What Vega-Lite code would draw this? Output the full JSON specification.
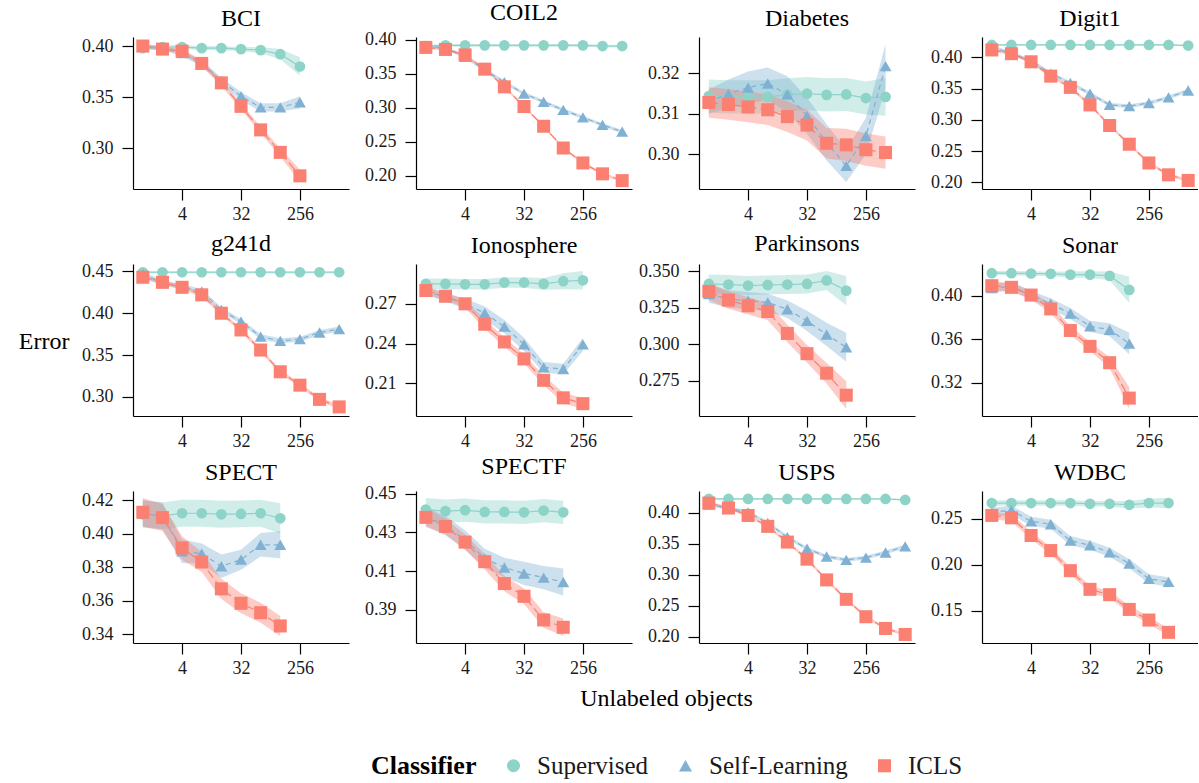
{
"$schema": "https://vega.github.io/schema/vega-lite/v6.json",
"padding": {"left": 18, "top": 0, "right": 0, "bottom": 0},
"title": {"text": "Error", "orient": "left", "angle": 0, "fontSize": 24, "offset": 12, "align": "left", "dy": -60},
"data": {"values": [
{"d":"BCI","c":"Supervised","x":1,"m":0.398,"lo":0.396,"hi":0.400},
{"d":"BCI","c":"Supervised","x":2,"m":0.399,"lo":0.397,"hi":0.401},
{"d":"BCI","c":"Supervised","x":4,"m":0.399,"lo":0.397,"hi":0.401},
{"d":"BCI","c":"Supervised","x":8,"m":0.398,"lo":0.396,"hi":0.400},
{"d":"BCI","c":"Supervised","x":16,"m":0.398,"lo":0.396,"hi":0.400},
{"d":"BCI","c":"Supervised","x":32,"m":0.397,"lo":0.395,"hi":0.399},
{"d":"BCI","c":"Supervised","x":64,"m":0.396,"lo":0.393,"hi":0.399},
{"d":"BCI","c":"Supervised","x":128,"m":0.392,"lo":0.387,"hi":0.397},
{"d":"BCI","c":"Supervised","x":256,"m":0.380,"lo":0.371,"hi":0.389},
{"d":"BCI","c":"Self-Learning","x":1,"m":0.400,"lo":0.398,"hi":0.402},
{"d":"BCI","c":"Self-Learning","x":2,"m":0.398,"lo":0.396,"hi":0.400},
{"d":"BCI","c":"Self-Learning","x":4,"m":0.393,"lo":0.390,"hi":0.396},
{"d":"BCI","c":"Self-Learning","x":8,"m":0.383,"lo":0.380,"hi":0.386},
{"d":"BCI","c":"Self-Learning","x":16,"m":0.366,"lo":0.363,"hi":0.369},
{"d":"BCI","c":"Self-Learning","x":32,"m":0.351,"lo":0.347,"hi":0.355},
{"d":"BCI","c":"Self-Learning","x":64,"m":0.340,"lo":0.336,"hi":0.344},
{"d":"BCI","c":"Self-Learning","x":128,"m":0.340,"lo":0.336,"hi":0.344},
{"d":"BCI","c":"Self-Learning","x":256,"m":0.345,"lo":0.339,"hi":0.351},
{"d":"BCI","c":"ICLS","x":1,"m":0.400,"lo":0.398,"hi":0.402},
{"d":"BCI","c":"ICLS","x":2,"m":0.397,"lo":0.395,"hi":0.399},
{"d":"BCI","c":"ICLS","x":4,"m":0.395,"lo":0.393,"hi":0.397},
{"d":"BCI","c":"ICLS","x":8,"m":0.383,"lo":0.380,"hi":0.386},
{"d":"BCI","c":"ICLS","x":16,"m":0.364,"lo":0.361,"hi":0.367},
{"d":"BCI","c":"ICLS","x":32,"m":0.341,"lo":0.338,"hi":0.344},
{"d":"BCI","c":"ICLS","x":64,"m":0.318,"lo":0.315,"hi":0.321},
{"d":"BCI","c":"ICLS","x":128,"m":0.296,"lo":0.292,"hi":0.300},
{"d":"BCI","c":"ICLS","x":256,"m":0.273,"lo":0.267,"hi":0.279},

{"d":"COIL2","c":"Supervised","x":1,"m":0.391,"lo":0.389,"hi":0.393},
{"d":"COIL2","c":"Supervised","x":2,"m":0.392,"lo":0.390,"hi":0.394},
{"d":"COIL2","c":"Supervised","x":4,"m":0.392,"lo":0.390,"hi":0.394},
{"d":"COIL2","c":"Supervised","x":8,"m":0.392,"lo":0.390,"hi":0.394},
{"d":"COIL2","c":"Supervised","x":16,"m":0.392,"lo":0.390,"hi":0.394},
{"d":"COIL2","c":"Supervised","x":32,"m":0.392,"lo":0.390,"hi":0.394},
{"d":"COIL2","c":"Supervised","x":64,"m":0.392,"lo":0.390,"hi":0.394},
{"d":"COIL2","c":"Supervised","x":128,"m":0.392,"lo":0.390,"hi":0.394},
{"d":"COIL2","c":"Supervised","x":256,"m":0.392,"lo":0.390,"hi":0.394},
{"d":"COIL2","c":"Supervised","x":512,"m":0.391,"lo":0.389,"hi":0.393},
{"d":"COIL2","c":"Supervised","x":1024,"m":0.391,"lo":0.389,"hi":0.393},
{"d":"COIL2","c":"Self-Learning","x":1,"m":0.391,"lo":0.3885,"hi":0.3935},
{"d":"COIL2","c":"Self-Learning","x":2,"m":0.388,"lo":0.3855,"hi":0.3905},
{"d":"COIL2","c":"Self-Learning","x":4,"m":0.375,"lo":0.3725,"hi":0.3775},
{"d":"COIL2","c":"Self-Learning","x":8,"m":0.356,"lo":0.3535,"hi":0.3585},
{"d":"COIL2","c":"Self-Learning","x":16,"m":0.338,"lo":0.3355,"hi":0.3405},
{"d":"COIL2","c":"Self-Learning","x":32,"m":0.321,"lo":0.3185,"hi":0.3235},
{"d":"COIL2","c":"Self-Learning","x":64,"m":0.309,"lo":0.3065,"hi":0.3115},
{"d":"COIL2","c":"Self-Learning","x":128,"m":0.297,"lo":0.2945,"hi":0.2995},
{"d":"COIL2","c":"Self-Learning","x":256,"m":0.286,"lo":0.2835,"hi":0.2885},
{"d":"COIL2","c":"Self-Learning","x":512,"m":0.275,"lo":0.2725,"hi":0.2775},
{"d":"COIL2","c":"Self-Learning","x":1024,"m":0.265,"lo":0.2625,"hi":0.2675},
{"d":"COIL2","c":"ICLS","x":1,"m":0.389,"lo":0.387,"hi":0.391},
{"d":"COIL2","c":"ICLS","x":2,"m":0.386,"lo":0.384,"hi":0.388},
{"d":"COIL2","c":"ICLS","x":4,"m":0.378,"lo":0.376,"hi":0.380},
{"d":"COIL2","c":"ICLS","x":8,"m":0.357,"lo":0.355,"hi":0.359},
{"d":"COIL2","c":"ICLS","x":16,"m":0.331,"lo":0.329,"hi":0.333},
{"d":"COIL2","c":"ICLS","x":32,"m":0.302,"lo":0.300,"hi":0.304},
{"d":"COIL2","c":"ICLS","x":64,"m":0.273,"lo":0.271,"hi":0.275},
{"d":"COIL2","c":"ICLS","x":128,"m":0.241,"lo":0.239,"hi":0.243},
{"d":"COIL2","c":"ICLS","x":256,"m":0.219,"lo":0.217,"hi":0.221},
{"d":"COIL2","c":"ICLS","x":512,"m":0.203,"lo":0.201,"hi":0.205},
{"d":"COIL2","c":"ICLS","x":1024,"m":0.193,"lo":0.191,"hi":0.195},

{"d":"Diabetes","c":"Supervised","x":1,"m":0.3144,"lo":0.3103,"hi":0.3185},
{"d":"Diabetes","c":"Supervised","x":2,"m":0.3142,"lo":0.3101,"hi":0.3183},
{"d":"Diabetes","c":"Supervised","x":4,"m":0.3142,"lo":0.3101,"hi":0.3183},
{"d":"Diabetes","c":"Supervised","x":8,"m":0.3142,"lo":0.3101,"hi":0.3183},
{"d":"Diabetes","c":"Supervised","x":16,"m":0.3147,"lo":0.3106,"hi":0.3188},
{"d":"Diabetes","c":"Supervised","x":32,"m":0.3150,"lo":0.3109,"hi":0.3191},
{"d":"Diabetes","c":"Supervised","x":64,"m":0.3147,"lo":0.3106,"hi":0.3188},
{"d":"Diabetes","c":"Supervised","x":128,"m":0.3148,"lo":0.3107,"hi":0.3189},
{"d":"Diabetes","c":"Supervised","x":256,"m":0.3139,"lo":0.3098,"hi":0.3180},
{"d":"Diabetes","c":"Supervised","x":512,"m":0.3142,"lo":0.3095,"hi":0.3189},
{"d":"Diabetes","c":"Self-Learning","x":1,"m":0.3130,"lo":0.3100,"hi":0.3160},
{"d":"Diabetes","c":"Self-Learning","x":2,"m":0.3150,"lo":0.3115,"hi":0.3185},
{"d":"Diabetes","c":"Self-Learning","x":4,"m":0.3165,"lo":0.3125,"hi":0.3205},
{"d":"Diabetes","c":"Self-Learning","x":8,"m":0.3175,"lo":0.3135,"hi":0.3215},
{"d":"Diabetes","c":"Self-Learning","x":16,"m":0.3148,"lo":0.3103,"hi":0.3193},
{"d":"Diabetes","c":"Self-Learning","x":32,"m":0.3095,"lo":0.3050,"hi":0.3140},
{"d":"Diabetes","c":"Self-Learning","x":64,"m":0.3029,"lo":0.2984,"hi":0.3074},
{"d":"Diabetes","c":"Self-Learning","x":128,"m":0.2971,"lo":0.2931,"hi":0.3011},
{"d":"Diabetes","c":"Self-Learning","x":256,"m":0.3045,"lo":0.3000,"hi":0.3090},
{"d":"Diabetes","c":"Self-Learning","x":512,"m":0.3218,"lo":0.3163,"hi":0.3273},
{"d":"Diabetes","c":"ICLS","x":1,"m":0.3128,"lo":0.3090,"hi":0.3166},
{"d":"Diabetes","c":"ICLS","x":2,"m":0.3123,"lo":0.3085,"hi":0.3161},
{"d":"Diabetes","c":"ICLS","x":4,"m":0.3117,"lo":0.3079,"hi":0.3155},
{"d":"Diabetes","c":"ICLS","x":8,"m":0.3110,"lo":0.3072,"hi":0.3148},
{"d":"Diabetes","c":"ICLS","x":16,"m":0.3093,"lo":0.3055,"hi":0.3131},
{"d":"Diabetes","c":"ICLS","x":32,"m":0.3072,"lo":0.3034,"hi":0.3110},
{"d":"Diabetes","c":"ICLS","x":64,"m":0.3027,"lo":0.2989,"hi":0.3065},
{"d":"Diabetes","c":"ICLS","x":128,"m":0.3023,"lo":0.2983,"hi":0.3063},
{"d":"Diabetes","c":"ICLS","x":256,"m":0.3011,"lo":0.2971,"hi":0.3051},
{"d":"Diabetes","c":"ICLS","x":512,"m":0.3004,"lo":0.2964,"hi":0.3044},

{"d":"Digit1","c":"Supervised","x":1,"m":0.420,"lo":0.4185,"hi":0.4215},
{"d":"Digit1","c":"Supervised","x":2,"m":0.420,"lo":0.4185,"hi":0.4215},
{"d":"Digit1","c":"Supervised","x":4,"m":0.420,"lo":0.4185,"hi":0.4215},
{"d":"Digit1","c":"Supervised","x":8,"m":0.420,"lo":0.4185,"hi":0.4215},
{"d":"Digit1","c":"Supervised","x":16,"m":0.420,"lo":0.4185,"hi":0.4215},
{"d":"Digit1","c":"Supervised","x":32,"m":0.420,"lo":0.4185,"hi":0.4215},
{"d":"Digit1","c":"Supervised","x":64,"m":0.420,"lo":0.4185,"hi":0.4215},
{"d":"Digit1","c":"Supervised","x":128,"m":0.420,"lo":0.4185,"hi":0.4215},
{"d":"Digit1","c":"Supervised","x":256,"m":0.420,"lo":0.4185,"hi":0.4215},
{"d":"Digit1","c":"Supervised","x":512,"m":0.420,"lo":0.4185,"hi":0.4215},
{"d":"Digit1","c":"Supervised","x":1024,"m":0.419,"lo":0.4175,"hi":0.4205},
{"d":"Digit1","c":"Self-Learning","x":1,"m":0.417,"lo":0.414,"hi":0.420},
{"d":"Digit1","c":"Self-Learning","x":2,"m":0.406,"lo":0.403,"hi":0.409},
{"d":"Digit1","c":"Self-Learning","x":4,"m":0.395,"lo":0.392,"hi":0.398},
{"d":"Digit1","c":"Self-Learning","x":8,"m":0.374,"lo":0.371,"hi":0.377},
{"d":"Digit1","c":"Self-Learning","x":16,"m":0.359,"lo":0.356,"hi":0.362},
{"d":"Digit1","c":"Self-Learning","x":32,"m":0.342,"lo":0.339,"hi":0.345},
{"d":"Digit1","c":"Self-Learning","x":64,"m":0.324,"lo":0.321,"hi":0.327},
{"d":"Digit1","c":"Self-Learning","x":128,"m":0.322,"lo":0.319,"hi":0.325},
{"d":"Digit1","c":"Self-Learning","x":256,"m":0.327,"lo":0.324,"hi":0.330},
{"d":"Digit1","c":"Self-Learning","x":512,"m":0.336,"lo":0.333,"hi":0.339},
{"d":"Digit1","c":"Self-Learning","x":1024,"m":0.347,"lo":0.344,"hi":0.350},
{"d":"Digit1","c":"ICLS","x":1,"m":0.412,"lo":0.4095,"hi":0.4145},
{"d":"Digit1","c":"ICLS","x":2,"m":0.406,"lo":0.4035,"hi":0.4085},
{"d":"Digit1","c":"ICLS","x":4,"m":0.393,"lo":0.3905,"hi":0.3955},
{"d":"Digit1","c":"ICLS","x":8,"m":0.370,"lo":0.3675,"hi":0.3725},
{"d":"Digit1","c":"ICLS","x":16,"m":0.352,"lo":0.3495,"hi":0.3545},
{"d":"Digit1","c":"ICLS","x":32,"m":0.324,"lo":0.3215,"hi":0.3265},
{"d":"Digit1","c":"ICLS","x":64,"m":0.291,"lo":0.2885,"hi":0.2935},
{"d":"Digit1","c":"ICLS","x":128,"m":0.261,"lo":0.2585,"hi":0.2635},
{"d":"Digit1","c":"ICLS","x":256,"m":0.231,"lo":0.2285,"hi":0.2335},
{"d":"Digit1","c":"ICLS","x":512,"m":0.212,"lo":0.2095,"hi":0.2145},
{"d":"Digit1","c":"ICLS","x":1024,"m":0.203,"lo":0.2005,"hi":0.2055},

{"d":"g241d","c":"Supervised","x":1,"m":0.449,"lo":0.4475,"hi":0.4505},
{"d":"g241d","c":"Supervised","x":2,"m":0.449,"lo":0.4475,"hi":0.4505},
{"d":"g241d","c":"Supervised","x":4,"m":0.449,"lo":0.4475,"hi":0.4505},
{"d":"g241d","c":"Supervised","x":8,"m":0.449,"lo":0.4475,"hi":0.4505},
{"d":"g241d","c":"Supervised","x":16,"m":0.449,"lo":0.4475,"hi":0.4505},
{"d":"g241d","c":"Supervised","x":32,"m":0.449,"lo":0.4475,"hi":0.4505},
{"d":"g241d","c":"Supervised","x":64,"m":0.449,"lo":0.4475,"hi":0.4505},
{"d":"g241d","c":"Supervised","x":128,"m":0.449,"lo":0.4475,"hi":0.4505},
{"d":"g241d","c":"Supervised","x":256,"m":0.449,"lo":0.4475,"hi":0.4505},
{"d":"g241d","c":"Supervised","x":512,"m":0.449,"lo":0.4475,"hi":0.4505},
{"d":"g241d","c":"Supervised","x":1024,"m":0.449,"lo":0.4475,"hi":0.4505},
{"d":"g241d","c":"Self-Learning","x":1,"m":0.447,"lo":0.444,"hi":0.450},
{"d":"g241d","c":"Self-Learning","x":2,"m":0.436,"lo":0.433,"hi":0.439},
{"d":"g241d","c":"Self-Learning","x":4,"m":0.432,"lo":0.429,"hi":0.435},
{"d":"g241d","c":"Self-Learning","x":8,"m":0.426,"lo":0.423,"hi":0.429},
{"d":"g241d","c":"Self-Learning","x":16,"m":0.404,"lo":0.401,"hi":0.407},
{"d":"g241d","c":"Self-Learning","x":32,"m":0.390,"lo":0.387,"hi":0.393},
{"d":"g241d","c":"Self-Learning","x":64,"m":0.372,"lo":0.369,"hi":0.375},
{"d":"g241d","c":"Self-Learning","x":128,"m":0.367,"lo":0.364,"hi":0.370},
{"d":"g241d","c":"Self-Learning","x":256,"m":0.369,"lo":0.366,"hi":0.372},
{"d":"g241d","c":"Self-Learning","x":512,"m":0.377,"lo":0.374,"hi":0.380},
{"d":"g241d","c":"Self-Learning","x":1024,"m":0.381,"lo":0.378,"hi":0.384},
{"d":"g241d","c":"ICLS","x":1,"m":0.443,"lo":0.4405,"hi":0.4455},
{"d":"g241d","c":"ICLS","x":2,"m":0.437,"lo":0.4345,"hi":0.4395},
{"d":"g241d","c":"ICLS","x":4,"m":0.431,"lo":0.4285,"hi":0.4335},
{"d":"g241d","c":"ICLS","x":8,"m":0.422,"lo":0.4195,"hi":0.4245},
{"d":"g241d","c":"ICLS","x":16,"m":0.400,"lo":0.3975,"hi":0.4025},
{"d":"g241d","c":"ICLS","x":32,"m":0.380,"lo":0.3775,"hi":0.3825},
{"d":"g241d","c":"ICLS","x":64,"m":0.356,"lo":0.3535,"hi":0.3585},
{"d":"g241d","c":"ICLS","x":128,"m":0.330,"lo":0.3275,"hi":0.3325},
{"d":"g241d","c":"ICLS","x":256,"m":0.314,"lo":0.3115,"hi":0.3165},
{"d":"g241d","c":"ICLS","x":512,"m":0.297,"lo":0.2945,"hi":0.2995},
{"d":"g241d","c":"ICLS","x":1024,"m":0.288,"lo":0.2855,"hi":0.2905},

{"d":"Ionosphere","c":"Supervised","x":1,"m":0.2850,"lo":0.2810,"hi":0.2890},
{"d":"Ionosphere","c":"Supervised","x":2,"m":0.2850,"lo":0.2810,"hi":0.2890},
{"d":"Ionosphere","c":"Supervised","x":4,"m":0.2847,"lo":0.2807,"hi":0.2887},
{"d":"Ionosphere","c":"Supervised","x":8,"m":0.2847,"lo":0.2807,"hi":0.2887},
{"d":"Ionosphere","c":"Supervised","x":16,"m":0.2860,"lo":0.2820,"hi":0.2900},
{"d":"Ionosphere","c":"Supervised","x":32,"m":0.2860,"lo":0.2820,"hi":0.2900},
{"d":"Ionosphere","c":"Supervised","x":64,"m":0.2850,"lo":0.2805,"hi":0.2895},
{"d":"Ionosphere","c":"Supervised","x":128,"m":0.2870,"lo":0.2810,"hi":0.2930},
{"d":"Ionosphere","c":"Supervised","x":256,"m":0.2877,"lo":0.2807,"hi":0.2947},
{"d":"Ionosphere","c":"Self-Learning","x":1,"m":0.2796,"lo":0.2766,"hi":0.2826},
{"d":"Ionosphere","c":"Self-Learning","x":2,"m":0.2750,"lo":0.2720,"hi":0.2780},
{"d":"Ionosphere","c":"Self-Learning","x":4,"m":0.2700,"lo":0.2660,"hi":0.2740},
{"d":"Ionosphere","c":"Self-Learning","x":8,"m":0.2630,"lo":0.2580,"hi":0.2680},
{"d":"Ionosphere","c":"Self-Learning","x":16,"m":0.2528,"lo":0.2478,"hi":0.2578},
{"d":"Ionosphere","c":"Self-Learning","x":32,"m":0.2395,"lo":0.2345,"hi":0.2445},
{"d":"Ionosphere","c":"Self-Learning","x":64,"m":0.2221,"lo":0.2181,"hi":0.2261},
{"d":"Ionosphere","c":"Self-Learning","x":128,"m":0.2209,"lo":0.2169,"hi":0.2249},
{"d":"Ionosphere","c":"Self-Learning","x":256,"m":0.2395,"lo":0.2345,"hi":0.2445},
{"d":"Ionosphere","c":"ICLS","x":1,"m":0.2800,"lo":0.2770,"hi":0.2830},
{"d":"Ionosphere","c":"ICLS","x":2,"m":0.2757,"lo":0.2727,"hi":0.2787},
{"d":"Ionosphere","c":"ICLS","x":4,"m":0.2700,"lo":0.2670,"hi":0.2730},
{"d":"Ionosphere","c":"ICLS","x":8,"m":0.2546,"lo":0.2511,"hi":0.2581},
{"d":"Ionosphere","c":"ICLS","x":16,"m":0.2413,"lo":0.2378,"hi":0.2448},
{"d":"Ionosphere","c":"ICLS","x":32,"m":0.2285,"lo":0.2250,"hi":0.2320},
{"d":"Ionosphere","c":"ICLS","x":64,"m":0.2124,"lo":0.2089,"hi":0.2159},
{"d":"Ionosphere","c":"ICLS","x":128,"m":0.1992,"lo":0.1952,"hi":0.2032},
{"d":"Ionosphere","c":"ICLS","x":256,"m":0.1948,"lo":0.1908,"hi":0.1988},

{"d":"Parkinsons","c":"Supervised","x":1,"m":0.3414,"lo":0.3349,"hi":0.3479},
{"d":"Parkinsons","c":"Supervised","x":2,"m":0.3410,"lo":0.3345,"hi":0.3475},
{"d":"Parkinsons","c":"Supervised","x":4,"m":0.3403,"lo":0.3338,"hi":0.3468},
{"d":"Parkinsons","c":"Supervised","x":8,"m":0.3407,"lo":0.3342,"hi":0.3472},
{"d":"Parkinsons","c":"Supervised","x":16,"m":0.3410,"lo":0.3345,"hi":0.3475},
{"d":"Parkinsons","c":"Supervised","x":32,"m":0.3414,"lo":0.3349,"hi":0.3479},
{"d":"Parkinsons","c":"Supervised","x":64,"m":0.3438,"lo":0.3373,"hi":0.3503},
{"d":"Parkinsons","c":"Supervised","x":128,"m":0.3368,"lo":0.3268,"hi":0.3468},
{"d":"Parkinsons","c":"Self-Learning","x":1,"m":0.3345,"lo":0.3285,"hi":0.3405},
{"d":"Parkinsons","c":"Self-Learning","x":2,"m":0.3310,"lo":0.3250,"hi":0.3370},
{"d":"Parkinsons","c":"Self-Learning","x":4,"m":0.3299,"lo":0.3239,"hi":0.3359},
{"d":"Parkinsons","c":"Self-Learning","x":8,"m":0.3287,"lo":0.3227,"hi":0.3347},
{"d":"Parkinsons","c":"Self-Learning","x":16,"m":0.3240,"lo":0.3180,"hi":0.3300},
{"d":"Parkinsons","c":"Self-Learning","x":32,"m":0.3160,"lo":0.3090,"hi":0.3230},
{"d":"Parkinsons","c":"Self-Learning","x":64,"m":0.3067,"lo":0.2987,"hi":0.3147},
{"d":"Parkinsons","c":"Self-Learning","x":128,"m":0.2979,"lo":0.2879,"hi":0.3079},
{"d":"Parkinsons","c":"ICLS","x":1,"m":0.3363,"lo":0.3303,"hi":0.3423},
{"d":"Parkinsons","c":"ICLS","x":2,"m":0.3303,"lo":0.3243,"hi":0.3363},
{"d":"Parkinsons","c":"ICLS","x":4,"m":0.3264,"lo":0.3204,"hi":0.3324},
{"d":"Parkinsons","c":"ICLS","x":8,"m":0.3225,"lo":0.3165,"hi":0.3285},
{"d":"Parkinsons","c":"ICLS","x":16,"m":0.3074,"lo":0.3014,"hi":0.3134},
{"d":"Parkinsons","c":"ICLS","x":32,"m":0.2935,"lo":0.2875,"hi":0.2995},
{"d":"Parkinsons","c":"ICLS","x":64,"m":0.2801,"lo":0.2731,"hi":0.2871},
{"d":"Parkinsons","c":"ICLS","x":128,"m":0.2650,"lo":0.2555,"hi":0.2745},

{"d":"Sonar","c":"Supervised","x":1,"m":0.4207,"lo":0.4187,"hi":0.4227},
{"d":"Sonar","c":"Supervised","x":2,"m":0.4207,"lo":0.4187,"hi":0.4227},
{"d":"Sonar","c":"Supervised","x":4,"m":0.4204,"lo":0.4184,"hi":0.4224},
{"d":"Sonar","c":"Supervised","x":8,"m":0.4201,"lo":0.4181,"hi":0.4221},
{"d":"Sonar","c":"Supervised","x":16,"m":0.4194,"lo":0.4164,"hi":0.4224},
{"d":"Sonar","c":"Supervised","x":32,"m":0.4194,"lo":0.4164,"hi":0.4224},
{"d":"Sonar","c":"Supervised","x":64,"m":0.4182,"lo":0.4142,"hi":0.4222},
{"d":"Sonar","c":"Supervised","x":128,"m":0.4054,"lo":0.3934,"hi":0.4174},
{"d":"Sonar","c":"Self-Learning","x":1,"m":0.4070,"lo":0.4030,"hi":0.4110},
{"d":"Sonar","c":"Self-Learning","x":2,"m":0.4086,"lo":0.4046,"hi":0.4126},
{"d":"Sonar","c":"Self-Learning","x":4,"m":0.4006,"lo":0.3966,"hi":0.4046},
{"d":"Sonar","c":"Self-Learning","x":8,"m":0.3927,"lo":0.3877,"hi":0.3977},
{"d":"Sonar","c":"Self-Learning","x":16,"m":0.3837,"lo":0.3787,"hi":0.3887},
{"d":"Sonar","c":"Self-Learning","x":32,"m":0.3720,"lo":0.3670,"hi":0.3770},
{"d":"Sonar","c":"Self-Learning","x":64,"m":0.3688,"lo":0.3628,"hi":0.3748},
{"d":"Sonar","c":"Self-Learning","x":128,"m":0.3560,"lo":0.3460,"hi":0.3660},
{"d":"Sonar","c":"ICLS","x":1,"m":0.4092,"lo":0.4052,"hi":0.4132},
{"d":"Sonar","c":"ICLS","x":2,"m":0.4077,"lo":0.4037,"hi":0.4117},
{"d":"Sonar","c":"ICLS","x":4,"m":0.4006,"lo":0.3966,"hi":0.4046},
{"d":"Sonar","c":"ICLS","x":8,"m":0.3879,"lo":0.3839,"hi":0.3919},
{"d":"Sonar","c":"ICLS","x":16,"m":0.3681,"lo":0.3641,"hi":0.3721},
{"d":"Sonar","c":"ICLS","x":32,"m":0.3535,"lo":0.3495,"hi":0.3575},
{"d":"Sonar","c":"ICLS","x":64,"m":0.3385,"lo":0.3335,"hi":0.3435},
{"d":"Sonar","c":"ICLS","x":128,"m":0.3060,"lo":0.2960,"hi":0.3160},

{"d":"SPECT","c":"Supervised","x":1,"m":0.4115,"lo":0.4035,"hi":0.4195},
{"d":"SPECT","c":"Supervised","x":2,"m":0.4105,"lo":0.4025,"hi":0.4185},
{"d":"SPECT","c":"Supervised","x":4,"m":0.4121,"lo":0.4041,"hi":0.4201},
{"d":"SPECT","c":"Supervised","x":8,"m":0.4121,"lo":0.4041,"hi":0.4201},
{"d":"SPECT","c":"Supervised","x":16,"m":0.4115,"lo":0.4035,"hi":0.4195},
{"d":"SPECT","c":"Supervised","x":32,"m":0.4117,"lo":0.4037,"hi":0.4197},
{"d":"SPECT","c":"Supervised","x":64,"m":0.4121,"lo":0.4041,"hi":0.4201},
{"d":"SPECT","c":"Supervised","x":128,"m":0.4091,"lo":0.4001,"hi":0.4181},
{"d":"SPECT","c":"Self-Learning","x":1,"m":0.4120,"lo":0.4040,"hi":0.4200},
{"d":"SPECT","c":"Self-Learning","x":2,"m":0.4105,"lo":0.4025,"hi":0.4185},
{"d":"SPECT","c":"Self-Learning","x":4,"m":0.3894,"lo":0.3824,"hi":0.3964},
{"d":"SPECT","c":"Self-Learning","x":8,"m":0.3880,"lo":0.3820,"hi":0.3940},
{"d":"SPECT","c":"Self-Learning","x":16,"m":0.3805,"lo":0.3735,"hi":0.3875},
{"d":"SPECT","c":"Self-Learning","x":32,"m":0.3844,"lo":0.3784,"hi":0.3904},
{"d":"SPECT","c":"Self-Learning","x":64,"m":0.3933,"lo":0.3863,"hi":0.4003},
{"d":"SPECT","c":"Self-Learning","x":128,"m":0.3933,"lo":0.3853,"hi":0.4013},
{"d":"SPECT","c":"ICLS","x":1,"m":0.4127,"lo":0.4042,"hi":0.4212},
{"d":"SPECT","c":"ICLS","x":2,"m":0.4095,"lo":0.4015,"hi":0.4175},
{"d":"SPECT","c":"ICLS","x":4,"m":0.3914,"lo":0.3844,"hi":0.3984},
{"d":"SPECT","c":"ICLS","x":8,"m":0.3830,"lo":0.3770,"hi":0.3890},
{"d":"SPECT","c":"ICLS","x":16,"m":0.3670,"lo":0.3610,"hi":0.3730},
{"d":"SPECT","c":"ICLS","x":32,"m":0.3584,"lo":0.3524,"hi":0.3644},
{"d":"SPECT","c":"ICLS","x":64,"m":0.3528,"lo":0.3468,"hi":0.3588},
{"d":"SPECT","c":"ICLS","x":128,"m":0.3449,"lo":0.3389,"hi":0.3509},

{"d":"SPECTF","c":"Supervised","x":1,"m":0.4418,"lo":0.4358,"hi":0.4478},
{"d":"SPECTF","c":"Supervised","x":2,"m":0.4410,"lo":0.4350,"hi":0.4470},
{"d":"SPECTF","c":"Supervised","x":4,"m":0.4415,"lo":0.4355,"hi":0.4475},
{"d":"SPECTF","c":"Supervised","x":8,"m":0.4406,"lo":0.4346,"hi":0.4466},
{"d":"SPECTF","c":"Supervised","x":16,"m":0.4406,"lo":0.4346,"hi":0.4466},
{"d":"SPECTF","c":"Supervised","x":32,"m":0.4404,"lo":0.4344,"hi":0.4464},
{"d":"SPECTF","c":"Supervised","x":64,"m":0.4413,"lo":0.4353,"hi":0.4473},
{"d":"SPECTF","c":"Supervised","x":128,"m":0.4404,"lo":0.4344,"hi":0.4464},
{"d":"SPECTF","c":"Self-Learning","x":1,"m":0.4383,"lo":0.4333,"hi":0.4433},
{"d":"SPECTF","c":"Self-Learning","x":2,"m":0.4335,"lo":0.4285,"hi":0.4385},
{"d":"SPECTF","c":"Self-Learning","x":4,"m":0.4262,"lo":0.4212,"hi":0.4312},
{"d":"SPECTF","c":"Self-Learning","x":8,"m":0.4166,"lo":0.4116,"hi":0.4216},
{"d":"SPECTF","c":"Self-Learning","x":16,"m":0.4119,"lo":0.4069,"hi":0.4169},
{"d":"SPECTF","c":"Self-Learning","x":32,"m":0.4088,"lo":0.4028,"hi":0.4148},
{"d":"SPECTF","c":"Self-Learning","x":64,"m":0.4067,"lo":0.4007,"hi":0.4127},
{"d":"SPECTF","c":"Self-Learning","x":128,"m":0.4044,"lo":0.3974,"hi":0.4114},
{"d":"SPECTF","c":"ICLS","x":1,"m":0.4378,"lo":0.4328,"hi":0.4428},
{"d":"SPECTF","c":"ICLS","x":2,"m":0.4331,"lo":0.4291,"hi":0.4371},
{"d":"SPECTF","c":"ICLS","x":4,"m":0.4250,"lo":0.4210,"hi":0.4290},
{"d":"SPECTF","c":"ICLS","x":8,"m":0.4149,"lo":0.4109,"hi":0.4189},
{"d":"SPECTF","c":"ICLS","x":16,"m":0.4036,"lo":0.3996,"hi":0.4076},
{"d":"SPECTF","c":"ICLS","x":32,"m":0.3970,"lo":0.3930,"hi":0.4010},
{"d":"SPECTF","c":"ICLS","x":64,"m":0.3848,"lo":0.3808,"hi":0.3888},
{"d":"SPECTF","c":"ICLS","x":128,"m":0.3810,"lo":0.3765,"hi":0.3855},

{"d":"USPS","c":"Supervised","x":1,"m":0.4227,"lo":0.4212,"hi":0.4242},
{"d":"USPS","c":"Supervised","x":2,"m":0.4227,"lo":0.4212,"hi":0.4242},
{"d":"USPS","c":"Supervised","x":4,"m":0.4227,"lo":0.4212,"hi":0.4242},
{"d":"USPS","c":"Supervised","x":8,"m":0.4227,"lo":0.4212,"hi":0.4242},
{"d":"USPS","c":"Supervised","x":16,"m":0.4227,"lo":0.4212,"hi":0.4242},
{"d":"USPS","c":"Supervised","x":32,"m":0.4227,"lo":0.4212,"hi":0.4242},
{"d":"USPS","c":"Supervised","x":64,"m":0.4227,"lo":0.4212,"hi":0.4242},
{"d":"USPS","c":"Supervised","x":128,"m":0.4227,"lo":0.4212,"hi":0.4242},
{"d":"USPS","c":"Supervised","x":256,"m":0.4227,"lo":0.4212,"hi":0.4242},
{"d":"USPS","c":"Supervised","x":512,"m":0.4227,"lo":0.4212,"hi":0.4242},
{"d":"USPS","c":"Supervised","x":1024,"m":0.4211,"lo":0.4196,"hi":0.4226},
{"d":"USPS","c":"Self-Learning","x":1,"m":0.4135,"lo":0.4105,"hi":0.4165},
{"d":"USPS","c":"Self-Learning","x":2,"m":0.4080,"lo":0.4050,"hi":0.4110},
{"d":"USPS","c":"Self-Learning","x":4,"m":0.4010,"lo":0.3980,"hi":0.4040},
{"d":"USPS","c":"Self-Learning","x":8,"m":0.3838,"lo":0.3808,"hi":0.3868},
{"d":"USPS","c":"Self-Learning","x":16,"m":0.3610,"lo":0.3580,"hi":0.3640},
{"d":"USPS","c":"Self-Learning","x":32,"m":0.3422,"lo":0.3392,"hi":0.3452},
{"d":"USPS","c":"Self-Learning","x":64,"m":0.3297,"lo":0.3267,"hi":0.3327},
{"d":"USPS","c":"Self-Learning","x":128,"m":0.3243,"lo":0.3213,"hi":0.3273},
{"d":"USPS","c":"Self-Learning","x":256,"m":0.3280,"lo":0.3250,"hi":0.3310},
{"d":"USPS","c":"Self-Learning","x":512,"m":0.3362,"lo":0.3332,"hi":0.3392},
{"d":"USPS","c":"Self-Learning","x":1024,"m":0.3460,"lo":0.3430,"hi":0.3490},
{"d":"USPS","c":"ICLS","x":1,"m":0.4160,"lo":0.4135,"hi":0.4185},
{"d":"USPS","c":"ICLS","x":2,"m":0.4080,"lo":0.4055,"hi":0.4105},
{"d":"USPS","c":"ICLS","x":4,"m":0.3960,"lo":0.3935,"hi":0.3985},
{"d":"USPS","c":"ICLS","x":8,"m":0.3784,"lo":0.3759,"hi":0.3809},
{"d":"USPS","c":"ICLS","x":16,"m":0.3530,"lo":0.3505,"hi":0.3555},
{"d":"USPS","c":"ICLS","x":32,"m":0.3254,"lo":0.3229,"hi":0.3279},
{"d":"USPS","c":"ICLS","x":64,"m":0.2919,"lo":0.2894,"hi":0.2944},
{"d":"USPS","c":"ICLS","x":128,"m":0.2605,"lo":0.2580,"hi":0.2630},
{"d":"USPS","c":"ICLS","x":256,"m":0.2324,"lo":0.2299,"hi":0.2349},
{"d":"USPS","c":"ICLS","x":512,"m":0.2135,"lo":0.2110,"hi":0.2160},
{"d":"USPS","c":"ICLS","x":1024,"m":0.2038,"lo":0.2013,"hi":0.2063},

{"d":"WDBC","c":"Supervised","x":1,"m":0.2673,"lo":0.2643,"hi":0.2703},
{"d":"WDBC","c":"Supervised","x":2,"m":0.2673,"lo":0.2643,"hi":0.2703},
{"d":"WDBC","c":"Supervised","x":4,"m":0.2673,"lo":0.2643,"hi":0.2703},
{"d":"WDBC","c":"Supervised","x":8,"m":0.2673,"lo":0.2643,"hi":0.2703},
{"d":"WDBC","c":"Supervised","x":16,"m":0.2673,"lo":0.2643,"hi":0.2703},
{"d":"WDBC","c":"Supervised","x":32,"m":0.2665,"lo":0.2635,"hi":0.2695},
{"d":"WDBC","c":"Supervised","x":64,"m":0.2665,"lo":0.2635,"hi":0.2695},
{"d":"WDBC","c":"Supervised","x":128,"m":0.2654,"lo":0.2614,"hi":0.2694},
{"d":"WDBC","c":"Supervised","x":256,"m":0.2673,"lo":0.2623,"hi":0.2723},
{"d":"WDBC","c":"Supervised","x":512,"m":0.2673,"lo":0.2618,"hi":0.2728},
{"d":"WDBC","c":"Self-Learning","x":1,"m":0.2569,"lo":0.2519,"hi":0.2619},
{"d":"WDBC","c":"Self-Learning","x":2,"m":0.2596,"lo":0.2546,"hi":0.2646},
{"d":"WDBC","c":"Self-Learning","x":4,"m":0.2473,"lo":0.2423,"hi":0.2523},
{"d":"WDBC","c":"Self-Learning","x":8,"m":0.2442,"lo":0.2392,"hi":0.2492},
{"d":"WDBC","c":"Self-Learning","x":16,"m":0.2262,"lo":0.2212,"hi":0.2312},
{"d":"WDBC","c":"Self-Learning","x":32,"m":0.2212,"lo":0.2162,"hi":0.2262},
{"d":"WDBC","c":"Self-Learning","x":64,"m":0.2135,"lo":0.2085,"hi":0.2185},
{"d":"WDBC","c":"Self-Learning","x":128,"m":0.2012,"lo":0.1962,"hi":0.2062},
{"d":"WDBC","c":"Self-Learning","x":256,"m":0.1846,"lo":0.1796,"hi":0.1896},
{"d":"WDBC","c":"Self-Learning","x":512,"m":0.1812,"lo":0.1762,"hi":0.1862},
{"d":"WDBC","c":"ICLS","x":1,"m":0.2538,"lo":0.2498,"hi":0.2578},
{"d":"WDBC","c":"ICLS","x":2,"m":0.2512,"lo":0.2472,"hi":0.2552},
{"d":"WDBC","c":"ICLS","x":4,"m":0.2319,"lo":0.2279,"hi":0.2359},
{"d":"WDBC","c":"ICLS","x":8,"m":0.2154,"lo":0.2114,"hi":0.2194},
{"d":"WDBC","c":"ICLS","x":16,"m":0.1935,"lo":0.1895,"hi":0.1975},
{"d":"WDBC","c":"ICLS","x":32,"m":0.1731,"lo":0.1691,"hi":0.1771},
{"d":"WDBC","c":"ICLS","x":64,"m":0.1673,"lo":0.1633,"hi":0.1713},
{"d":"WDBC","c":"ICLS","x":128,"m":0.1512,"lo":0.1472,"hi":0.1552},
{"d":"WDBC","c":"ICLS","x":256,"m":0.1396,"lo":0.1356,"hi":0.1436},
{"d":"WDBC","c":"ICLS","x":512,"m":0.1262,"lo":0.1222,"hi":0.1302}
]},
"columns": 4,
"spacing": {"row": 75, "column": 67},
"bounds": "flush",
"align": "all",
"resolve": {"legend": {"color": "independent", "shape": "independent"}},
"concat": [
{"title": "BCI", "width": 216, "height": 152, "transform": [{"filter": "datum.d === 'BCI'"}],
 "encoding": {"x": {"field": "x", "type": "quantitative", "scale": {"type": "log", "base": 2, "domain": [0.7071, 1448.15], "nice": false}, "axis": {"values": [4, 32, 256], "format": "d", "title": null}}, "color": {"field": "c", "type": "nominal", "legend": null, "scale": {"domain": ["Supervised", "Self-Learning", "ICLS"], "range": ["#8dd3c7", "#80b1d3", "#fb8072"]}}},
 "layer": [
  {"mark": {"type": "area", "fillOpacity": 0.4}, "encoding": {"y": {"field": "lo", "type": "quantitative", "scale": {"zero": false, "nice": false, "padding": 7}, "axis": {"values": [0.30, 0.35, 0.40], "tickCount": 20, "format": ".2f", "title": null, "labelOverlap": false}}, "y2": {"field": "hi"}}},
  {"mark": {"type": "line", "strokeWidth": 1.2}, "encoding": {"y": {"field": "m", "type": "quantitative"}, "strokeDash": {"field": "c", "type": "nominal", "scale": {"domain": ["Supervised", "Self-Learning", "ICLS"], "range": [[1, 0], [5, 4], [9, 4]]}, "legend": null}}},
  {"mark": {"type": "point", "filled": true, "opacity": 1}, "encoding": {"y": {"field": "m", "type": "quantitative"}, "size": {"field": "c", "type": "nominal", "legend": null, "scale": {"domain": ["Supervised", "Self-Learning", "ICLS"], "range": [115, 170, 140]}}, "shape": {"field": "c", "type": "nominal", "legend": null, "scale": {"domain": ["Supervised", "Self-Learning", "ICLS"], "range": ["circle", "triangle-up", "square"]}}}}
 ]},
{"title": "COIL2", "width": 216, "height": 152, "transform": [{"filter": "datum.d === 'COIL2'"}],
 "encoding": {"x": {"field": "x", "type": "quantitative", "scale": {"type": "log", "base": 2, "domain": [0.7071, 1448.15], "nice": false}, "axis": {"values": [4, 32, 256], "format": "d", "title": null}}, "color": {"field": "c", "type": "nominal", "legend": null, "scale": {"domain": ["Supervised", "Self-Learning", "ICLS"], "range": ["#8dd3c7", "#80b1d3", "#fb8072"]}}},
 "layer": [
  {"mark": {"type": "area", "fillOpacity": 0.4}, "encoding": {"y": {"field": "lo", "type": "quantitative", "scale": {"zero": false, "nice": false, "padding": 7}, "axis": {"values": [0.20, 0.25, 0.30, 0.35, 0.40], "tickCount": 20, "format": ".2f", "title": null, "labelOverlap": false}}, "y2": {"field": "hi"}}},
  {"mark": {"type": "line", "strokeWidth": 1.2}, "encoding": {"y": {"field": "m", "type": "quantitative"}, "strokeDash": {"field": "c", "type": "nominal", "scale": {"domain": ["Supervised", "Self-Learning", "ICLS"], "range": [[1, 0], [5, 4], [9, 4]]}, "legend": null}}},
  {"mark": {"type": "point", "filled": true, "opacity": 1}, "encoding": {"y": {"field": "m", "type": "quantitative"}, "size": {"field": "c", "type": "nominal", "legend": null, "scale": {"domain": ["Supervised", "Self-Learning", "ICLS"], "range": [115, 170, 140]}}, "shape": {"field": "c", "type": "nominal", "legend": null, "scale": {"domain": ["Supervised", "Self-Learning", "ICLS"], "range": ["circle", "triangle-up", "square"]}}}}
 ]},
{"title": "Diabetes", "width": 216, "height": 152, "transform": [{"filter": "datum.d === 'Diabetes'"}],
 "encoding": {"x": {"field": "x", "type": "quantitative", "scale": {"type": "log", "base": 2, "domain": [0.7071, 1448.15], "nice": false}, "axis": {"values": [4, 32, 256], "format": "d", "title": null}}, "color": {"field": "c", "type": "nominal", "legend": null, "scale": {"domain": ["Supervised", "Self-Learning", "ICLS"], "range": ["#8dd3c7", "#80b1d3", "#fb8072"]}}},
 "layer": [
  {"mark": {"type": "area", "fillOpacity": 0.4}, "encoding": {"y": {"field": "lo", "type": "quantitative", "scale": {"zero": false, "nice": false, "padding": 7}, "axis": {"values": [0.30, 0.31, 0.32], "tickCount": 20, "format": ".2f", "title": null, "labelOverlap": false}}, "y2": {"field": "hi"}}},
  {"mark": {"type": "line", "strokeWidth": 1.2}, "encoding": {"y": {"field": "m", "type": "quantitative"}, "strokeDash": {"field": "c", "type": "nominal", "scale": {"domain": ["Supervised", "Self-Learning", "ICLS"], "range": [[1, 0], [5, 4], [9, 4]]}, "legend": null}}},
  {"mark": {"type": "point", "filled": true, "opacity": 1}, "encoding": {"y": {"field": "m", "type": "quantitative"}, "size": {"field": "c", "type": "nominal", "legend": null, "scale": {"domain": ["Supervised", "Self-Learning", "ICLS"], "range": [115, 170, 140]}}, "shape": {"field": "c", "type": "nominal", "legend": null, "scale": {"domain": ["Supervised", "Self-Learning", "ICLS"], "range": ["circle", "triangle-up", "square"]}}}}
 ]},
{"title": "Digit1", "width": 216, "height": 152, "transform": [{"filter": "datum.d === 'Digit1'"}],
 "encoding": {"x": {"field": "x", "type": "quantitative", "scale": {"type": "log", "base": 2, "domain": [0.7071, 1448.15], "nice": false}, "axis": {"values": [4, 32, 256], "format": "d", "title": null}}, "color": {"field": "c", "type": "nominal", "legend": null, "scale": {"domain": ["Supervised", "Self-Learning", "ICLS"], "range": ["#8dd3c7", "#80b1d3", "#fb8072"]}}},
 "layer": [
  {"mark": {"type": "area", "fillOpacity": 0.4}, "encoding": {"y": {"field": "lo", "type": "quantitative", "scale": {"zero": false, "nice": false, "padding": 7}, "axis": {"values": [0.20, 0.25, 0.30, 0.35, 0.40], "tickCount": 20, "format": ".2f", "title": null, "labelOverlap": false}}, "y2": {"field": "hi"}}},
  {"mark": {"type": "line", "strokeWidth": 1.2}, "encoding": {"y": {"field": "m", "type": "quantitative"}, "strokeDash": {"field": "c", "type": "nominal", "scale": {"domain": ["Supervised", "Self-Learning", "ICLS"], "range": [[1, 0], [5, 4], [9, 4]]}, "legend": null}}},
  {"mark": {"type": "point", "filled": true, "opacity": 1}, "encoding": {"y": {"field": "m", "type": "quantitative"}, "size": {"field": "c", "type": "nominal", "legend": null, "scale": {"domain": ["Supervised", "Self-Learning", "ICLS"], "range": [115, 170, 140]}}, "shape": {"field": "c", "type": "nominal", "legend": null, "scale": {"domain": ["Supervised", "Self-Learning", "ICLS"], "range": ["circle", "triangle-up", "square"]}}}}
 ]},
{"title": "g241d", "width": 216, "height": 152, "transform": [{"filter": "datum.d === 'g241d'"}],
 "encoding": {"x": {"field": "x", "type": "quantitative", "scale": {"type": "log", "base": 2, "domain": [0.7071, 1448.15], "nice": false}, "axis": {"values": [4, 32, 256], "format": "d", "title": null}}, "color": {"field": "c", "type": "nominal", "legend": null, "scale": {"domain": ["Supervised", "Self-Learning", "ICLS"], "range": ["#8dd3c7", "#80b1d3", "#fb8072"]}}},
 "layer": [
  {"mark": {"type": "area", "fillOpacity": 0.4}, "encoding": {"y": {"field": "lo", "type": "quantitative", "scale": {"zero": false, "nice": false, "padding": 7}, "axis": {"values": [0.30, 0.35, 0.40, 0.45], "tickCount": 20, "format": ".2f", "title": null, "labelOverlap": false}}, "y2": {"field": "hi"}}},
  {"mark": {"type": "line", "strokeWidth": 1.2}, "encoding": {"y": {"field": "m", "type": "quantitative"}, "strokeDash": {"field": "c", "type": "nominal", "scale": {"domain": ["Supervised", "Self-Learning", "ICLS"], "range": [[1, 0], [5, 4], [9, 4]]}, "legend": null}}},
  {"mark": {"type": "point", "filled": true, "opacity": 1}, "encoding": {"y": {"field": "m", "type": "quantitative"}, "size": {"field": "c", "type": "nominal", "legend": null, "scale": {"domain": ["Supervised", "Self-Learning", "ICLS"], "range": [115, 170, 140]}}, "shape": {"field": "c", "type": "nominal", "legend": null, "scale": {"domain": ["Supervised", "Self-Learning", "ICLS"], "range": ["circle", "triangle-up", "square"]}}}}
 ]},
{"title": "Ionosphere", "width": 216, "height": 152, "transform": [{"filter": "datum.d === 'Ionosphere'"}],
 "encoding": {"x": {"field": "x", "type": "quantitative", "scale": {"type": "log", "base": 2, "domain": [0.7071, 1448.15], "nice": false}, "axis": {"values": [4, 32, 256], "format": "d", "title": null}}, "color": {"field": "c", "type": "nominal", "legend": null, "scale": {"domain": ["Supervised", "Self-Learning", "ICLS"], "range": ["#8dd3c7", "#80b1d3", "#fb8072"]}}},
 "layer": [
  {"mark": {"type": "area", "fillOpacity": 0.4}, "encoding": {"y": {"field": "lo", "type": "quantitative", "scale": {"zero": false, "nice": false, "padding": 7}, "axis": {"values": [0.21, 0.24, 0.27, 0.30], "tickCount": 20, "format": ".2f", "title": null, "labelOverlap": false}}, "y2": {"field": "hi"}}},
  {"mark": {"type": "line", "strokeWidth": 1.2}, "encoding": {"y": {"field": "m", "type": "quantitative"}, "strokeDash": {"field": "c", "type": "nominal", "scale": {"domain": ["Supervised", "Self-Learning", "ICLS"], "range": [[1, 0], [5, 4], [9, 4]]}, "legend": null}}},
  {"mark": {"type": "point", "filled": true, "opacity": 1}, "encoding": {"y": {"field": "m", "type": "quantitative"}, "size": {"field": "c", "type": "nominal", "legend": null, "scale": {"domain": ["Supervised", "Self-Learning", "ICLS"], "range": [115, 170, 140]}}, "shape": {"field": "c", "type": "nominal", "legend": null, "scale": {"domain": ["Supervised", "Self-Learning", "ICLS"], "range": ["circle", "triangle-up", "square"]}}}}
 ]},
{"title": "Parkinsons", "width": 216, "height": 152, "transform": [{"filter": "datum.d === 'Parkinsons'"}],
 "encoding": {"x": {"field": "x", "type": "quantitative", "scale": {"type": "log", "base": 2, "domain": [0.7071, 1448.15], "nice": false}, "axis": {"values": [4, 32, 256], "format": "d", "title": null}}, "color": {"field": "c", "type": "nominal", "legend": null, "scale": {"domain": ["Supervised", "Self-Learning", "ICLS"], "range": ["#8dd3c7", "#80b1d3", "#fb8072"]}}},
 "layer": [
  {"mark": {"type": "area", "fillOpacity": 0.4}, "encoding": {"y": {"field": "lo", "type": "quantitative", "scale": {"zero": false, "nice": false, "padding": 7}, "axis": {"values": [0.275, 0.300, 0.325, 0.350], "tickCount": 20, "format": ".3f", "title": null, "labelOverlap": false}}, "y2": {"field": "hi"}}},
  {"mark": {"type": "line", "strokeWidth": 1.2}, "encoding": {"y": {"field": "m", "type": "quantitative"}, "strokeDash": {"field": "c", "type": "nominal", "scale": {"domain": ["Supervised", "Self-Learning", "ICLS"], "range": [[1, 0], [5, 4], [9, 4]]}, "legend": null}}},
  {"mark": {"type": "point", "filled": true, "opacity": 1}, "encoding": {"y": {"field": "m", "type": "quantitative"}, "size": {"field": "c", "type": "nominal", "legend": null, "scale": {"domain": ["Supervised", "Self-Learning", "ICLS"], "range": [115, 170, 140]}}, "shape": {"field": "c", "type": "nominal", "legend": null, "scale": {"domain": ["Supervised", "Self-Learning", "ICLS"], "range": ["circle", "triangle-up", "square"]}}}}
 ]},
{"title": "Sonar", "width": 216, "height": 152, "transform": [{"filter": "datum.d === 'Sonar'"}],
 "encoding": {"x": {"field": "x", "type": "quantitative", "scale": {"type": "log", "base": 2, "domain": [0.7071, 1448.15], "nice": false}, "axis": {"values": [4, 32, 256], "format": "d", "title": null}}, "color": {"field": "c", "type": "nominal", "legend": null, "scale": {"domain": ["Supervised", "Self-Learning", "ICLS"], "range": ["#8dd3c7", "#80b1d3", "#fb8072"]}}},
 "layer": [
  {"mark": {"type": "area", "fillOpacity": 0.4}, "encoding": {"y": {"field": "lo", "type": "quantitative", "scale": {"zero": false, "nice": false, "padding": 7}, "axis": {"values": [0.32, 0.36, 0.40], "tickCount": 20, "format": ".2f", "title": null, "labelOverlap": false}}, "y2": {"field": "hi"}}},
  {"mark": {"type": "line", "strokeWidth": 1.2}, "encoding": {"y": {"field": "m", "type": "quantitative"}, "strokeDash": {"field": "c", "type": "nominal", "scale": {"domain": ["Supervised", "Self-Learning", "ICLS"], "range": [[1, 0], [5, 4], [9, 4]]}, "legend": null}}},
  {"mark": {"type": "point", "filled": true, "opacity": 1}, "encoding": {"y": {"field": "m", "type": "quantitative"}, "size": {"field": "c", "type": "nominal", "legend": null, "scale": {"domain": ["Supervised", "Self-Learning", "ICLS"], "range": [115, 170, 140]}}, "shape": {"field": "c", "type": "nominal", "legend": null, "scale": {"domain": ["Supervised", "Self-Learning", "ICLS"], "range": ["circle", "triangle-up", "square"]}}}}
 ]},
{"title": "SPECT", "width": 216, "height": 152, "transform": [{"filter": "datum.d === 'SPECT'"}],
 "encoding": {"x": {"field": "x", "type": "quantitative", "scale": {"type": "log", "base": 2, "domain": [0.7071, 1448.15], "nice": false}, "axis": {"values": [4, 32, 256], "format": "d", "title": null}}, "color": {"field": "c", "type": "nominal", "legend": null, "scale": {"domain": ["Supervised", "Self-Learning", "ICLS"], "range": ["#8dd3c7", "#80b1d3", "#fb8072"]}}},
 "layer": [
  {"mark": {"type": "area", "fillOpacity": 0.4}, "encoding": {"y": {"field": "lo", "type": "quantitative", "scale": {"zero": false, "nice": false, "padding": 7}, "axis": {"values": [0.34, 0.36, 0.38, 0.40, 0.42], "tickCount": 20, "format": ".2f", "title": null, "labelOverlap": false}}, "y2": {"field": "hi"}}},
  {"mark": {"type": "line", "strokeWidth": 1.2}, "encoding": {"y": {"field": "m", "type": "quantitative"}, "strokeDash": {"field": "c", "type": "nominal", "scale": {"domain": ["Supervised", "Self-Learning", "ICLS"], "range": [[1, 0], [5, 4], [9, 4]]}, "legend": null}}},
  {"mark": {"type": "point", "filled": true, "opacity": 1}, "encoding": {"y": {"field": "m", "type": "quantitative"}, "size": {"field": "c", "type": "nominal", "legend": null, "scale": {"domain": ["Supervised", "Self-Learning", "ICLS"], "range": [115, 170, 140]}}, "shape": {"field": "c", "type": "nominal", "legend": null, "scale": {"domain": ["Supervised", "Self-Learning", "ICLS"], "range": ["circle", "triangle-up", "square"]}}}}
 ]},
{"title": "SPECTF", "width": 216, "height": 152, "transform": [{"filter": "datum.d === 'SPECTF'"}],
 "encoding": {"x": {"field": "x", "type": "quantitative", "scale": {"type": "log", "base": 2, "domain": [0.7071, 1448.15], "nice": false}, "axis": {"values": [4, 32, 256], "format": "d", "title": "Unlabeled objects", "titleX": 250, "titleY": 43, "titleBaseline": "top", "titleFontSize": 24, "titleFontWeight": "normal", "titleFont": "Liberation Serif", "titleColor": "#000000"}}, "color": {"field": "c", "type": "nominal", "title": "Classifier", "legend": {"orient": "none", "legendX": -45, "legendY": 262, "direction": "horizontal", "titleOrient": "left"}, "scale": {"domain": ["Supervised", "Self-Learning", "ICLS"], "range": ["#8dd3c7", "#80b1d3", "#fb8072"]}}},
 "layer": [
  {"mark": {"type": "area", "fillOpacity": 0.4}, "encoding": {"y": {"field": "lo", "type": "quantitative", "scale": {"zero": false, "nice": false, "padding": 7}, "axis": {"values": [0.39, 0.41, 0.43, 0.45], "tickCount": 20, "format": ".2f", "title": null, "labelOverlap": false}}, "y2": {"field": "hi"}}},
  {"mark": {"type": "line", "strokeWidth": 1.2}, "encoding": {"y": {"field": "m", "type": "quantitative"}, "strokeDash": {"field": "c", "type": "nominal", "scale": {"domain": ["Supervised", "Self-Learning", "ICLS"], "range": [[1, 0], [5, 4], [9, 4]]}, "legend": null}}},
  {"mark": {"type": "point", "filled": true, "opacity": 1}, "encoding": {"y": {"field": "m", "type": "quantitative"}, "size": {"field": "c", "type": "nominal", "legend": null, "scale": {"domain": ["Supervised", "Self-Learning", "ICLS"], "range": [115, 170, 140]}}, "shape": {"field": "c", "type": "nominal", "title": "Classifier", "legend": {"orient": "none", "legendX": -45, "legendY": 262, "direction": "horizontal", "titleOrient": "left"}, "scale": {"domain": ["Supervised", "Self-Learning", "ICLS"], "range": ["circle", "triangle-up", "square"]}}}}
 ]},
{"title": "USPS", "width": 216, "height": 152, "transform": [{"filter": "datum.d === 'USPS'"}],
 "encoding": {"x": {"field": "x", "type": "quantitative", "scale": {"type": "log", "base": 2, "domain": [0.7071, 1448.15], "nice": false}, "axis": {"values": [4, 32, 256], "format": "d", "title": null}}, "color": {"field": "c", "type": "nominal", "legend": null, "scale": {"domain": ["Supervised", "Self-Learning", "ICLS"], "range": ["#8dd3c7", "#80b1d3", "#fb8072"]}}},
 "layer": [
  {"mark": {"type": "area", "fillOpacity": 0.4}, "encoding": {"y": {"field": "lo", "type": "quantitative", "scale": {"zero": false, "nice": false, "padding": 7}, "axis": {"values": [0.20, 0.25, 0.30, 0.35, 0.40], "tickCount": 20, "format": ".2f", "title": null, "labelOverlap": false}}, "y2": {"field": "hi"}}},
  {"mark": {"type": "line", "strokeWidth": 1.2}, "encoding": {"y": {"field": "m", "type": "quantitative"}, "strokeDash": {"field": "c", "type": "nominal", "scale": {"domain": ["Supervised", "Self-Learning", "ICLS"], "range": [[1, 0], [5, 4], [9, 4]]}, "legend": null}}},
  {"mark": {"type": "point", "filled": true, "opacity": 1}, "encoding": {"y": {"field": "m", "type": "quantitative"}, "size": {"field": "c", "type": "nominal", "legend": null, "scale": {"domain": ["Supervised", "Self-Learning", "ICLS"], "range": [115, 170, 140]}}, "shape": {"field": "c", "type": "nominal", "legend": null, "scale": {"domain": ["Supervised", "Self-Learning", "ICLS"], "range": ["circle", "triangle-up", "square"]}}}}
 ]},
{"title": "WDBC", "width": 216, "height": 152, "transform": [{"filter": "datum.d === 'WDBC'"}],
 "encoding": {"x": {"field": "x", "type": "quantitative", "scale": {"type": "log", "base": 2, "domain": [0.7071, 1448.15], "nice": false}, "axis": {"values": [4, 32, 256], "format": "d", "title": null}}, "color": {"field": "c", "type": "nominal", "legend": null, "scale": {"domain": ["Supervised", "Self-Learning", "ICLS"], "range": ["#8dd3c7", "#80b1d3", "#fb8072"]}}},
 "layer": [
  {"mark": {"type": "area", "fillOpacity": 0.4}, "encoding": {"y": {"field": "lo", "type": "quantitative", "scale": {"zero": false, "nice": false, "padding": 7}, "axis": {"values": [0.15, 0.20, 0.25], "tickCount": 20, "format": ".2f", "title": null, "labelOverlap": false}}, "y2": {"field": "hi"}}},
  {"mark": {"type": "line", "strokeWidth": 1.2}, "encoding": {"y": {"field": "m", "type": "quantitative"}, "strokeDash": {"field": "c", "type": "nominal", "scale": {"domain": ["Supervised", "Self-Learning", "ICLS"], "range": [[1, 0], [5, 4], [9, 4]]}, "legend": null}}},
  {"mark": {"type": "point", "filled": true, "opacity": 1}, "encoding": {"y": {"field": "m", "type": "quantitative"}, "size": {"field": "c", "type": "nominal", "legend": null, "scale": {"domain": ["Supervised", "Self-Learning", "ICLS"], "range": [115, 170, 140]}}, "shape": {"field": "c", "type": "nominal", "legend": null, "scale": {"domain": ["Supervised", "Self-Learning", "ICLS"], "range": ["circle", "triangle-up", "square"]}}}}
 ]}
],
"config": {
 "font": "Liberation Serif",
 "view": {"stroke": null},
 "axis": {"grid": false, "domainColor": "#000000", "domainWidth": 1.2, "tickColor": "#000000", "tickWidth": 1.2, "tickSize": 11, "labelFont": "Liberation Serif", "labelFontSize": 18, "labelColor": "#1a1a1a", "labelOverlap": false},
 "axisX": {"labelPadding": 5},
 "axisY": {"labelPadding": 9},
 "title": {"font": "Liberation Serif", "fontSize": 24, "fontWeight": "normal", "color": "#000000", "offset": 6, "anchor": "middle"},
 "legend": {"titleFont": "Liberation Serif", "titleFontSize": 26, "titleFontWeight": "bold", "titleColor": "#000000", "labelFont": "Liberation Serif", "labelFontSize": 25, "labelColor": "#1a1a1a", "symbolSize": 170, "symbolStrokeWidth": 0, "columnPadding": 24, "labelOffset": 11, "titlePadding": 24}
}
}
